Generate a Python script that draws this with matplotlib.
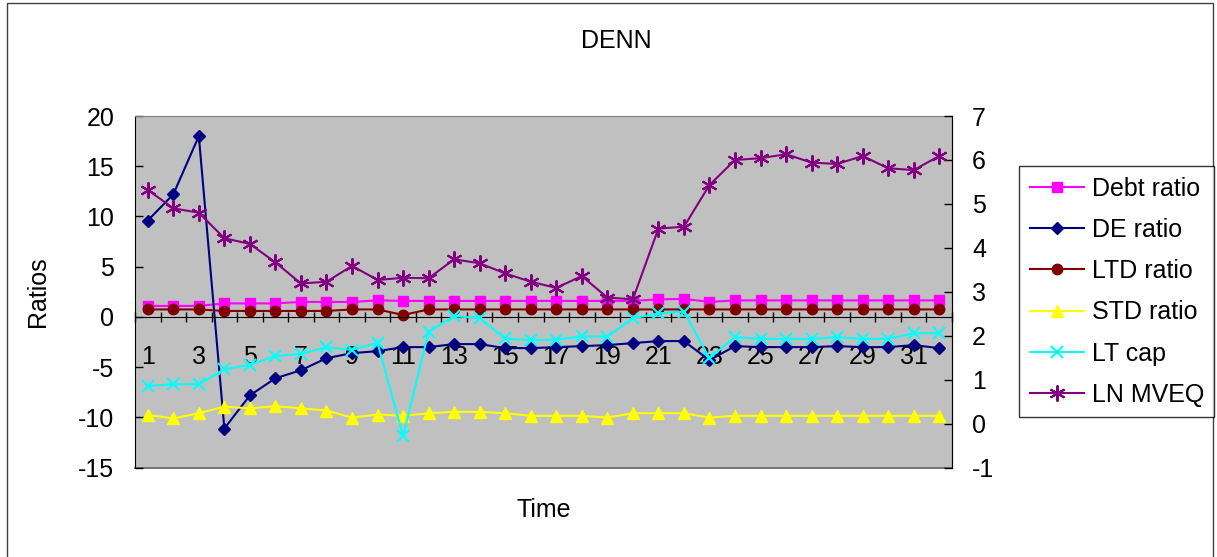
import matplotlib
matplotlib.use("Agg")
import matplotlib.pyplot as plt
from matplotlib.patches import Rectangle

plt.rcParams['font.family'] = ['Liberation Sans', 'DejaVu Sans']
plt.rcParams['axes.unicode_minus'] = False

# Time periods 1..32
periods = list(range(1, 33))
tick_labels = [str(p) for p in periods if p % 2 == 1]

# Primary axis series (Ratios)
debt_ratio = [1.1, 1.1, 1.1, 1.35, 1.35, 1.35, 1.5, 1.5, 1.5, 1.65,
              1.6, 1.6, 1.6, 1.6, 1.6, 1.6, 1.6, 1.6, 1.6, 1.6,
              1.75, 1.8, 1.5, 1.65, 1.65, 1.65, 1.65, 1.65, 1.65, 1.65,
              1.65, 1.65]
de_ratio = [9.6, 12.2, 18.0, -11.1, -7.8, -6.1, -5.3, -4.1, -3.6, -3.4,
            -3.0, -3.0, -2.7, -2.7, -3.1, -3.1, -3.0, -2.9, -2.8, -2.6,
            -2.4, -2.4, -4.3, -2.9, -3.0, -3.0, -3.0, -2.9, -3.0, -3.0,
            -2.8, -3.1]
ltd_ratio = [0.75, 0.75, 0.75, 0.6, 0.6, 0.6, 0.6, 0.6, 0.75, 0.75,
             0.2, 0.75, 0.75, 0.75, 0.75, 0.75, 0.75, 0.75, 0.75, 0.75,
             0.75, 0.75, 0.75, 0.75, 0.75, 0.75, 0.75, 0.75, 0.75, 0.75,
             0.75, 0.75]

# Secondary axis series
std_ratio = [0.20, 0.12, 0.24, 0.39, 0.35, 0.40, 0.35, 0.30, 0.14, 0.21,
             0.18, 0.24, 0.27, 0.27, 0.24, 0.18, 0.18, 0.18, 0.14, 0.24,
             0.24, 0.24, 0.14, 0.18, 0.18, 0.18, 0.18, 0.18, 0.18, 0.18,
             0.18, 0.18]
lt_cap = [0.86, 0.90, 0.90, 1.24, 1.34, 1.54, 1.59, 1.74, 1.68, 1.84,
          -0.28, 2.09, 2.45, 2.40, 1.94, 1.90, 1.91, 1.99, 1.98, 2.40,
          2.51, 2.55, 1.49, 1.97, 1.93, 1.93, 1.93, 1.97, 1.93, 1.93,
          2.06, 2.06]
ln_mveq = [5.32, 4.90, 4.80, 4.22, 4.09, 3.67, 3.19, 3.23, 3.59, 3.27,
           3.32, 3.31, 3.74, 3.65, 3.42, 3.23, 3.09, 3.36, 2.87, 2.83,
           4.44, 4.48, 5.43, 6.00, 6.04, 6.13, 5.94, 5.91, 6.09, 5.81,
           5.77, 6.09]

W, H = 1217, 557
fig = plt.figure(figsize=(W / 100, H / 100), dpi=100)

# Outer chart frame
fig.add_artist(Rectangle((7 / W, -0.05), (1213 - 7) / W, 1.05 - 3 / H,
                         transform=fig.transFigure, fill=False,
                         edgecolor='#404040', linewidth=1.0))

left, right, top, bottom = 135, 952, 116, 467.7
ax = fig.add_axes([left / W, 1 - bottom / H, (right - left) / W, (bottom - top) / H])
ax.set_facecolor('#C0C0C0')
ax2 = ax.twinx()

fs = 18
lw = 1.5

lines = []
lines += ax.plot(periods, debt_ratio, color='#FF00FF', lw=lw, marker='s', ms=7,
                 label='Debt ratio')
lines += ax.plot(periods, de_ratio, color='#000080', lw=lw, marker='D', ms=6.5,
                 label='DE ratio')
lines += ax.plot(periods, ltd_ratio, color='#800000', lw=lw, marker='o', ms=7.5,
                 label='LTD ratio')
lines += ax2.plot(periods, std_ratio, color='#FFFF00', lw=lw, marker='^', ms=8.5,
                  label='STD ratio')
lines += ax2.plot(periods, lt_cap, color='#00FFFF', lw=lw, marker='x', ms=8.5,
                  mew=1.5, label='LT cap')
lines += ax2.plot(periods, ln_mveq, color='#800080', lw=lw, marker=(6, 2, 0),
                  ms=11.5, mew=1.5, label='LN MVEQ')

ax.set_xlim(0.5, 32.5)
ax.set_ylim(-15, 20)
ax2.set_ylim(-1, 7)
ax.set_yticks(range(-15, 21, 5))
ax2.set_yticks(range(-1, 8))

# Category axis crossing at zero
ax.spines['bottom'].set_position(('data', 0))
ax.spines['bottom'].set_color('black')
ax.spines['top'].set_color('#808080')
ax.spines['left'].set_color('black')
for s in ['top', 'bottom', 'left']:
    ax2.spines[s].set_visible(False)
ax2.spines['right'].set_color('black')
ax.plot([0, 1], [0, 0], transform=ax.transAxes, color='#606060', lw=1.2,
        clip_on=False, zorder=0.5)

ax.set_xticks([p for p in periods if p % 2 == 1])
ax.set_xticklabels(tick_labels)
ax.set_xticks([p + 0.5 for p in range(0, 33)], minor=True)
ax.tick_params(axis='x', which='major', length=0, pad=20, labelsize=fs)
ax.tick_params(axis='x', which='minor', length=6.5, direction='inout', width=1)
ax.tick_params(axis='y', direction='in', length=5.5, pad=15, labelsize=fs, width=1)
ax2.tick_params(axis='y', direction='in', length=5.5, pad=14.5, labelsize=fs, width=1)

ax.set_ylabel('Ratios', fontsize=fs)
ax.yaxis.set_label_coords(-0.104, 0.5)

fig.text(544 / W, 1 - 510 / H, 'Time', fontsize=fs, ha='center', va='center')
fig.text(616 / W, 1 - 41 / H, 'DENN', fontsize=fs, ha='center', va='center')

leg = fig.legend(handles=lines, loc='upper left',
                 bbox_to_anchor=(1019 / W, 1 - 166 / H), fontsize=fs,
                 frameon=True, fancybox=False, edgecolor='black',
                 handlelength=2.16, handletextpad=0.32, labelspacing=0.69,
                 borderpad=0.42, borderaxespad=0)
leg.get_frame().set_linewidth(1.0)

fig.savefig('out.png', dpi=100, facecolor='white')
